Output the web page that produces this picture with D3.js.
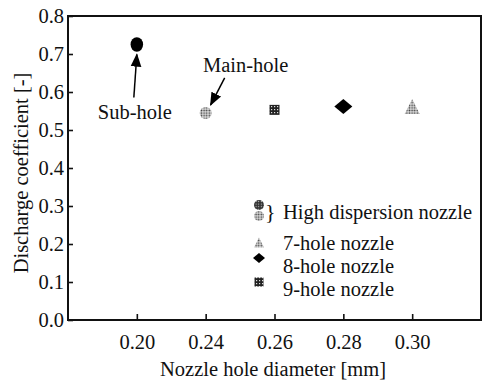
<!DOCTYPE html>
<html>
<head>
<meta charset="utf-8">
<script src="https://cdn.jsdelivr.net/npm/d3@7"></script>
<style>
  body { margin: 0; background: #fff; }
  svg text { font-family: "Liberation Serif", "Times New Roman", serif !important; fill: #111; }
</style>
</head>
<body>
<div class="chart"></div>
<script>
// nozzle hole diameters shown on the x axis (evenly spaced in the original)
var diameters = ["0.20", "0.24", "0.26", "0.28", "0.30"];
var yTicks = [0.0, 0.1, 0.2, 0.3, 0.4, 0.5, 0.6, 0.7, 0.8];

// measured points
var pointNames = ["Sub-hole", "Main-hole", "9-hole nozzle", "8-hole nozzle", "7-hole nozzle"];
var pointDiam = ["0.20", "0.24", "0.26", "0.28", "0.30"];
var pointCd = [0.725, 0.545, 0.553, 0.562, 0.560];
var pointShape = ["circle", "dotcircle", "checker", "diamond", "triangle"];

var legendLabels = ["High dispersion nozzle", "7-hole nozzle", "8-hole nozzle", "9-hole nozzle"];

var width = 484, height = 381;
var margin = {left: 68, right: 3, top: 16, bottom: 61};
var fs = '20.5px';

var svg = d3.select('.chart')
  .append('svg')
  .attr('width', width)
  .attr('height', height);

var defs = svg.append('defs');
// grey dotted fill
var dots = defs.append('pattern')
  .attr('id', 'dots').attr('width', 2.6).attr('height', 2.6)
  .attr('patternUnits', 'userSpaceOnUse');
dots.append('rect').attr('width', 2.6).attr('height', 2.6).attr('fill', '#dcdcdc');
dots.append('circle').attr('cx', 1.3).attr('cy', 1.3).attr('r', 0.85).attr('fill', '#444');
// darker dotted fill
var dotsDark = defs.append('pattern')
  .attr('id', 'dotsDark').attr('width', 2.6).attr('height', 2.6)
  .attr('patternUnits', 'userSpaceOnUse');
dotsDark.append('rect').attr('width', 2.6).attr('height', 2.6).attr('fill', '#333');
dotsDark.append('circle').attr('cx', 1.3).attr('cy', 1.3).attr('r', 0.6).attr('fill', '#ccc');
// checkered fill
var checker = defs.append('pattern')
  .attr('id', 'checker').attr('width', 3).attr('height', 3)
  .attr('patternUnits', 'userSpaceOnUse');
checker.append('rect').attr('width', 3).attr('height', 3).attr('fill', '#222');
checker.append('rect').attr('x', 1).attr('y', 1).attr('width', 1.2).attr('height', 1.2).attr('fill', '#ddd');

var x = d3.scalePoint()
  .domain(diameters)
  .range([margin.left, width - margin.right])
  .padding(1);

var y = d3.scaleLinear()
  .domain([0, 0.8])
  .range([height - margin.bottom, margin.top]);

// frame
svg.append('rect')
  .attr('x', margin.left)
  .attr('y', margin.top)
  .attr('width', width - margin.left - margin.right)
  .attr('height', height - margin.top - margin.bottom)
  .attr('fill', 'none')
  .attr('stroke', '#111')
  .attr('stroke-width', 2);

var xAxis = svg.append('g')
  .attr('transform', 'translate(0,' + (height - margin.bottom) + ')')
  .call(d3.axisBottom(x).tickSizeInner(-6).tickSizeOuter(0).tickPadding(14));
var yAxis = svg.append('g')
  .attr('transform', 'translate(' + margin.left + ',0)')
  .call(d3.axisLeft(y).tickValues(yTicks).tickFormat(d3.format('.1f'))
    .tickSizeInner(-5).tickSizeOuter(0).tickPadding(4));

[xAxis, yAxis].forEach(function (g) {
  g.attr('font-family', null).attr('font-size', null);
  g.select('.domain').remove();
  g.selectAll('line').attr('stroke', '#111').attr('stroke-width', 1.6);
  g.selectAll('text')
    .attr('font-size', fs)
    .attr('fill', '#111');
});

svg.append('text')
  .attr('x', 273).attr('y', 376)
  .attr('text-anchor', 'middle')
  .attr('font-size', fs)
  .text('Nozzle hole diameter [mm]');

svg.append('text')
  .attr('transform', 'translate(28,173) rotate(-90)')
  .attr('text-anchor', 'middle')
  .attr('font-size', fs)
  .text('Discharge coefficient [-]');

// marker drawing helper
function drawMarker(g, shape, cx, cy, s) {
  if (shape == 'circle') {
    g.append('ellipse').attr('cx', cx).attr('cy', cy).attr('rx', s * 0.5).attr('ry', s * 0.58).attr('fill', '#000');
  } else if (shape == 'dotcircle') {
    g.append('circle').attr('cx', cx).attr('cy', cy).attr('r', s * 0.5).attr('fill', 'url(#dots)');
  } else if (shape == 'darkcircle') {
    g.append('circle').attr('cx', cx).attr('cy', cy).attr('r', s * 0.5).attr('fill', 'url(#dotsDark)');
  } else if (shape == 'checker') {
    g.append('rect').attr('x', cx - s / 2).attr('y', cy - s / 2).attr('width', s).attr('height', s).attr('fill', 'url(#checker)');
  } else if (shape == 'diamond') {
    g.append('path')
      .attr('d', 'M' + (cx - s * 0.6) + ',' + cy + 'L' + cx + ',' + (cy - s * 0.5) + 'L' + (cx + s * 0.6) + ',' + cy + 'L' + cx + ',' + (cy + s * 0.5) + 'Z')
      .attr('fill', '#000');
  } else if (shape == 'triangle') {
    g.append('path')
      .attr('d', 'M' + cx + ',' + (cy - s * 0.55) + 'L' + (cx + s * 0.5) + ',' + (cy + s * 0.45) + 'L' + (cx - s * 0.5) + ',' + (cy + s * 0.45) + 'Z')
      .attr('fill', 'url(#dots)');
  }
}

var markerSize = {circle: 12.5, dotcircle: 12, checker: 10, diamond: 15, triangle: 15};
var marks = svg.append('g');
pointNames.forEach(function (name, i) {
  drawMarker(marks, pointShape[i], x(pointDiam[i]), y(pointCd[i]), markerSize[pointShape[i]]);
});

// annotations
defs.append('marker')
  .attr('id', 'arrow').attr('viewBox', '0 0 10 10')
  .attr('refX', 9).attr('refY', 5)
  .attr('markerWidth', 9).attr('markerHeight', 9)
  .attr('orient', 'auto')
  .append('path').attr('d', 'M0,1L10,5L0,9Z').attr('fill', '#000');

var subX = x(pointDiam[0]), subY = y(pointCd[0]);
svg.append('line')
  .attr('x1', subX - 3).attr('y1', subY + 53)
  .attr('x2', subX).attr('y2', subY + 10)
  .attr('stroke', '#000').attr('stroke-width', 1.5)
  .attr('marker-end', 'url(#arrow)');
svg.append('text')
  .attr('x', subX - 2).attr('y', subY + 74)
  .attr('text-anchor', 'middle')
  .attr('font-size', fs)
  .text('Sub-hole');

var mainX = x(pointDiam[1]), mainY = y(pointCd[1]);
svg.append('line')
  .attr('x1', mainX + 19).attr('y1', mainY - 35)
  .attr('x2', mainX + 5).attr('y2', mainY - 8)
  .attr('stroke', '#000').attr('stroke-width', 1.5)
  .attr('marker-end', 'url(#arrow)');
svg.append('text')
  .attr('x', mainX + 40).attr('y', mainY - 41)
  .attr('text-anchor', 'middle')
  .attr('font-size', fs)
  .text('Main-hole');

// legend
var lg = svg.append('g');
var lx = 259;
drawMarker(lg, 'darkcircle', lx, 205, 10);
drawMarker(lg, 'dotcircle', lx, 216, 10);
lg.append('text').attr('x', 265).attr('y', 219).attr('font-size', '22px').text('}');
lg.append('text').attr('x', 283).attr('y', 219).attr('font-size', fs).text(legendLabels[0]);
drawMarker(lg, 'triangle', lx, 243, 10);
drawMarker(lg, 'diamond', lx, 258, 10);
drawMarker(lg, 'checker', lx, 282, 9);
[250, 273, 296].forEach(function (ty, i) {
  lg.append('text').attr('x', 283).attr('y', ty).attr('font-size', fs).text(legendLabels[i + 1]);
});
</script>
</body>
</html>
